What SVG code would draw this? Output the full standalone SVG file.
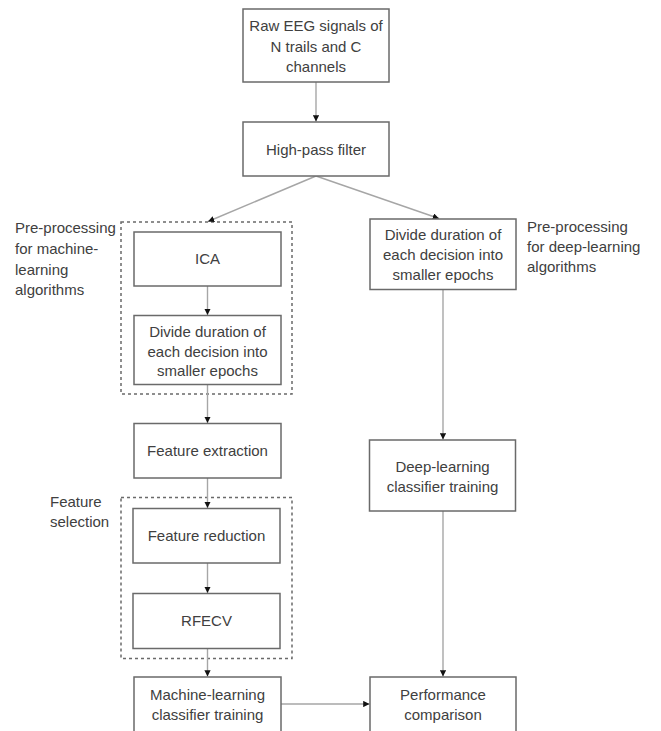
<svg xmlns="http://www.w3.org/2000/svg" width="661" height="731" viewBox="0 0 661 731">
<style>
.box{fill:#fff;stroke:#6a6a6a;stroke-width:1.5}
.grp{fill:none;stroke:#6a6a6a;stroke-width:1.5;stroke-dasharray:3 3}
.t{font-family:"Liberation Sans",Arial,sans-serif;font-size:15px;fill:#404040;text-anchor:middle}
.lbl{font-family:"Liberation Sans",Arial,sans-serif;font-size:15px;fill:#404040}
.c{fill:none;stroke:#a6a6a6;stroke-width:1.4;marker-end:url(#ah)}
</style>
<defs>
<marker id="ah" viewBox="0 0 10 10" refX="10" refY="5" markerWidth="4.5" markerHeight="4.5" orient="auto" markerUnits="strokeWidth">
<path d="M0,0 L10,5 L0,10 Z" fill="#111"/>
</marker>
</defs>
<rect width="661" height="731" fill="#fff"/>
<g id="groups">
<rect id="grp-ml" class="grp" x="121" y="222" width="171" height="172"/>
<rect id="grp-fs" class="grp" x="121" y="497.5" width="171" height="161"/>
<text class="lbl" x="15"><tspan x="15" y="233">Pre-processing</tspan><tspan x="15" y="254">for machine-</tspan><tspan x="15" y="275">learning</tspan><tspan x="15" y="295">algorithms</tspan></text>
<text class="lbl" x="527"><tspan x="527" y="232">Pre-processing</tspan><tspan x="527" y="252">for deep-learning</tspan><tspan x="527" y="272">algorithms</tspan></text>
<text class="lbl" x="50"><tspan x="50" y="507">Feature</tspan><tspan x="50" y="527">selection</tspan></text>
</g>
<g id="connectors">
<line class="c" x1="316" y1="82" x2="316" y2="121.5"/>
<line class="c" x1="316" y1="176" x2="208" y2="221.5"/>
<line class="c" x1="316" y1="176" x2="439" y2="218.5"/>
<line class="c" x1="207.5" y1="286" x2="207.5" y2="315"/>
<line class="c" x1="207.5" y1="384.5" x2="207.5" y2="423"/>
<line class="c" x1="207.5" y1="478" x2="207.5" y2="508"/>
<line class="c" x1="207.5" y1="563" x2="207.5" y2="593"/>
<line class="c" x1="207.5" y1="648.5" x2="207.5" y2="676.5"/>
<line class="c" x1="443" y1="289.5" x2="443" y2="439.5"/>
<line class="c" x1="443" y1="511" x2="443" y2="676.5"/>
<line class="c" x1="281" y1="704" x2="369.5" y2="704"/>
</g>
<g id="n-raw"><rect class="box" x="243" y="9" width="146" height="73"/><text class="t"><tspan x="316" y="31">Raw EEG signals of</tspan><tspan x="316" y="51.5">N trails and C</tspan><tspan x="316" y="72">channels</tspan></text></g>
<g id="n-hpf"><rect class="box" x="243" y="122" width="146" height="54"/><text class="t" x="316" y="155">High-pass filter</text></g>
<g id="n-ica"><rect class="box" x="134" y="232" width="147" height="54"/><text class="t" x="207.5" y="264">ICA</text></g>
<g id="n-div-ml"><rect class="box" x="134" y="315.5" width="147" height="69"/><text class="t"><tspan x="207.5" y="336.5">Divide duration of</tspan><tspan x="207.5" y="356.5">each decision into</tspan><tspan x="207.5" y="376">smaller epochs</tspan></text></g>
<g id="n-div-dl"><rect class="box" x="370" y="219" width="146" height="70.5"/><text class="t"><tspan x="443" y="240">Divide duration of</tspan><tspan x="443" y="260">each decision into</tspan><tspan x="443" y="280">smaller epochs</tspan></text></g>
<g id="n-fe"><rect class="box" x="134" y="423.5" width="147" height="54.5"/><text class="t" x="207.5" y="456">Feature extraction</text></g>
<g id="n-fr"><rect class="box" x="133" y="508.5" width="147" height="54.5"/><text class="t" x="206.5" y="541">Feature reduction</text></g>
<g id="n-rfecv"><rect class="box" x="133" y="593.5" width="147" height="55"/><text class="t" x="206.5" y="626">RFECV</text></g>
<g id="n-mlc"><rect class="box" x="134" y="677" width="147" height="60"/><text class="t"><tspan x="207.5" y="700">Machine-learning</tspan><tspan x="207.5" y="720">classifier training</tspan></text></g>
<g id="n-dlc"><rect class="box" x="369.5" y="440" width="146" height="71"/><text class="t"><tspan x="442.5" y="472">Deep-learning</tspan><tspan x="442.5" y="492">classifier training</tspan></text></g>
<g id="n-perf"><rect class="box" x="370" y="677" width="146" height="60"/><text class="t"><tspan x="443" y="700">Performance</tspan><tspan x="443" y="720">comparison</tspan></text></g>
</svg>
